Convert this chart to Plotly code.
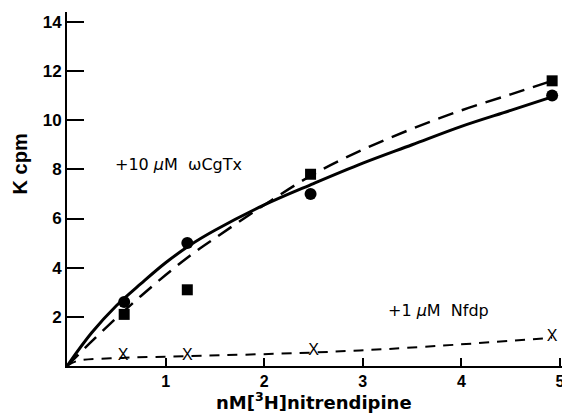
import plotly.graph_objects as go

# measured points
conc = [0.58, 1.22, 2.47, 4.92]
cgtx_circles = [2.6, 5.0, 7.0, 11.0]
cgtx_squares = [2.1, 3.1, 7.8, 11.6]
nfdp_x = [0.57, 1.22, 2.5, 4.92]
nfdp_vals = [0.4, 0.4, 0.6, 1.2]

# fitted curves as drawn
curve_x = [0, 0.25, 0.5, 0.75, 1.0, 1.25, 1.5, 2.0, 2.5, 3.0, 3.5, 4.0, 4.5, 4.92]
solid_y = [0, 1.35, 2.45, 3.35, 4.2, 4.92, 5.52, 6.55, 7.42, 8.25, 9.0, 9.75, 10.4, 10.95]
dashed_y = [0, 1.0, 1.95, 2.85, 3.7, 4.5, 5.2, 6.55, 7.8, 8.8, 9.65, 10.4, 11.05, 11.6]
nfdp_curve_x = [0, 0.1, 0.57, 1.22, 2.5, 3.5, 4.92]
nfdp_curve_y = [0, 0.2, 0.33, 0.4, 0.55, 0.75, 1.15]

x_ticks = [1, 2, 3, 4, 5]
y_ticks = [2, 4, 6, 8, 10, 12, 14]

FONT = "Liberation Sans"
FONT2 = "DejaVu Sans"

fig = go.Figure()
fig.add_trace(go.Scatter(x=curve_x, y=solid_y, mode="lines", line=dict(color="black", width=3, shape="spline"), showlegend=False))
fig.add_trace(go.Scatter(x=curve_x, y=dashed_y, mode="lines", line=dict(color="black", width=2.5, dash="16px,9px", shape="spline"), showlegend=False))
fig.add_trace(go.Scatter(x=nfdp_curve_x, y=nfdp_curve_y, mode="lines", line=dict(color="black", width=2, dash="10px,8px", shape="spline"), showlegend=False))
fig.add_trace(go.Scatter(x=conc, y=cgtx_circles, mode="markers", marker=dict(symbol="circle", size=12, color="black"), showlegend=False, cliponaxis=False))
fig.add_trace(go.Scatter(x=conc, y=cgtx_squares, mode="markers", marker=dict(symbol="square", size=11, color="black"), showlegend=False, cliponaxis=False))
fig.add_trace(go.Scatter(x=nfdp_x, y=nfdp_vals, mode="text", text=["X"] * len(nfdp_x), cliponaxis=False,
                         textfont=dict(family=FONT, size=16, color="black"), showlegend=False))

fig.update_layout(
    width=562, height=419,
    margin=dict(l=67, r=0, t=12, b=53),
    paper_bgcolor="white", plot_bgcolor="white",
    font=dict(family=FONT, color="black", size=14),
    xaxis=dict(range=[0, 5.02], tickvals=x_ticks, ticktext=[str(v) for v in x_ticks], automargin=False,
               ticks="inside", ticklen=8, tickwidth=1.5, tickcolor="black", ticklabeloverflow="allow",
               showline=True, linecolor="black", linewidth=2, showgrid=False, zeroline=False,
               tickfont=dict(size=16, family=FONT, color="black", weight="bold")),
    yaxis=dict(range=[0, 14.4], tickvals=y_ticks, ticktext=[str(v) for v in y_ticks], automargin=False,
               ticks="inside", ticklen=17, tickwidth=2, tickcolor="black",
               showline=True, linecolor="black", linewidth=2, showgrid=False, zeroline=False,
               tickfont=dict(size=17, family=FONT, color="black", weight="bold")),
    annotations=[
        dict(x=0.47, y=8.2, xref="x", yref="y", text="+10 <i>μ</i>M  ωCgTx", showarrow=False,
             xanchor="left", font=dict(size=16, family=FONT2, color="black")),
        dict(x=3.23, y=2.25, xref="x", yref="y", text="+1 <i>μ</i>M  Nfdp", showarrow=False,
             xanchor="left", font=dict(size=16, family=FONT2, color="black")),
        dict(x=(214 - 67) / 495, y=-0.1, xref="paper", yref="paper", xanchor="left", yanchor="middle",
             text="nM[<sup>3</sup>H]nitrendipine", showarrow=False,
             font=dict(size=18, family=FONT2, color="black", weight="bold")),
        dict(x=-47 / 495, y=8.2, xref="paper", yref="y", xanchor="center", yanchor="middle",
             text="K cpm", textangle=-90, showarrow=False,
             font=dict(size=20, family=FONT, color="black", weight="bold")),
    ],
)

fig.write_html("out.html", config={"displayModeBar": False},
               post_script="document.body.style.margin='0';document.body.style.padding='0';")
